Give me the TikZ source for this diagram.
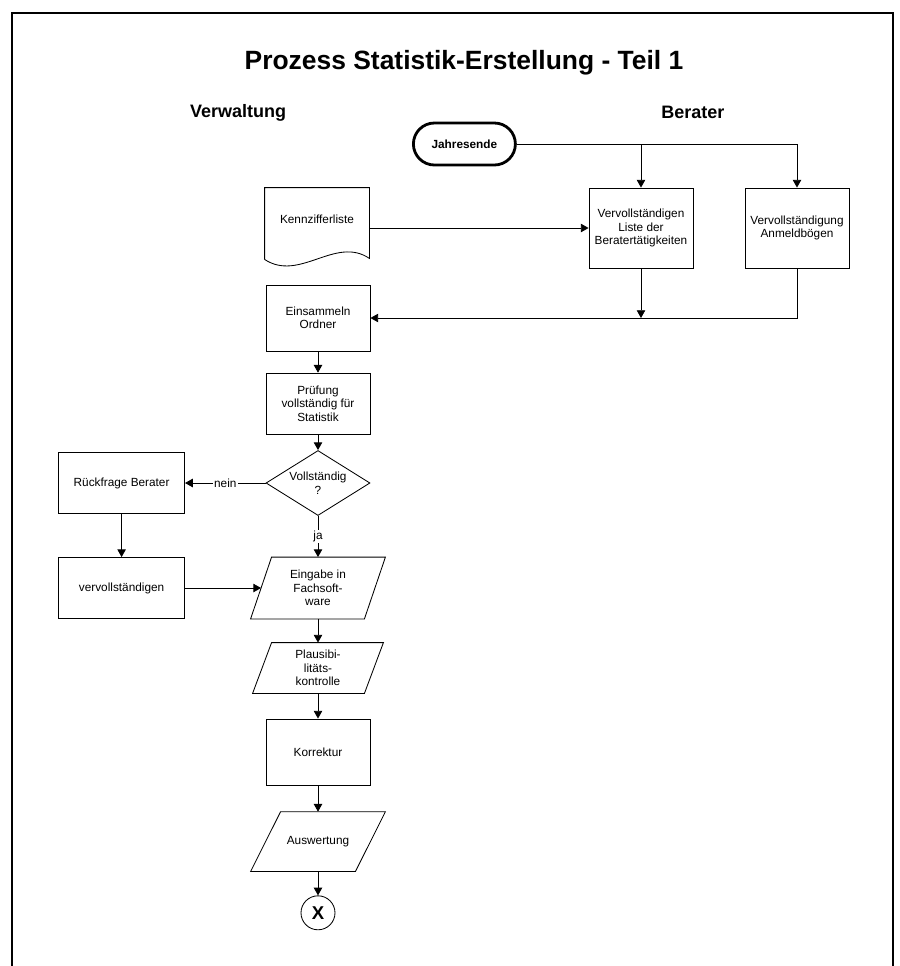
\documentclass[tikz,border=0pt]{standalone}
\usepackage{fontspec}
\setmainfont{Liberation Sans}
\usetikzlibrary{shapes.geometric, arrows.meta}
\tikzstyle{base} = [draw, line width=0.6pt, align=center, inner sep=2pt, font=\fontsize{8.4}{9.6}\selectfont]
\tikzstyle{process} = [base, rectangle, minimum width=2.6cm, minimum height=1.65cm]
\tikzstyle{startstop} = [base, rectangle, rounded corners=0.525cm, line width=2pt, minimum width=2.55cm, minimum height=1.05cm, font=\bfseries\fontsize{8.4}{9.6}\selectfont]
\tikzstyle{decision} = [base, diamond, aspect=1.6, inner sep=0pt, minimum width=2.6cm, minimum height=1.625cm]
\tikzstyle{io} = [base, draw=none, rectangle, minimum width=2.8cm, minimum height=1.525cm]
\tikzstyle{doc} = [base, draw=none, rectangle, minimum width=2.6cm, minimum height=1.55cm]
\tikzstyle{lane} = [font=\bfseries\fontsize{12.8}{15}\selectfont]
\tikzstyle{tag} = [fill=white, inner sep=1pt, font=\fontsize{8.4}{9.6}\selectfont]
\tikzstyle{arrow} = [line width=0.6pt,->,>={Triangle[length=5.5pt,width=6pt]}]

\begin{document}
\begin{tikzpicture}
        \useasboundingbox (0,0) rectangle (22.475,-24.15);
        \draw [line width=1pt] (0.3,-24.15) -- (0.3,-0.325) -- (22.325,-0.325) -- (22.325,-24.15);
        \node [font=\bfseries\fontsize{18.8}{22}\selectfont] at (11.6,-1.57) (title) {Prozess Statistik-Erstellung - Teil 1};
        \node [lane] at (5.95,-2.82) (verw) {Verwaltung};
        \node [lane] at (17.32,-2.82) (berat) {Berater};
        % Berater
        \node [startstop] at (11.61,-3.6) (jahr) {Jahresende};
        \node [process, minimum height=2cm] at (16.025,-5.7) (vliste) {Vervollständigen\\Liste der\\Beratertätigkeiten};
        \node [process, minimum height=2cm] at (19.925,-5.7) (vanmeld) {Vervollständigung\\Anmeldbögen};
        % Verwaltung
        \node [doc] at (7.925,-5.475) (kenn) {Kennzifferliste};
        \draw [base] ([yshift=-0.225cm]kenn.south west) -- (kenn.north west) -- (kenn.north east) -- ([yshift=-0.2cm]kenn.south east)
              .. controls +(-0.85,0.575) and +(0.875,-0.575) .. ([yshift=-0.225cm]kenn.south west);
        \node [process] at (7.95,-7.95) (einsam) {Einsammeln\\Ordner};
        \node [process, minimum height=1.525cm] at (7.95,-10.09) (pruef) {Prüfung\\vollständig für\\Statistik};
        \node [decision] at (7.95,-12.075) (vollst) {Vollständig\\?};
        \node [process, minimum width=3.15cm, minimum height=1.525cm] at (3.04,-12.075) (rueck) {Rückfrage Berater};
        \node [process, minimum width=3.15cm, minimum height=1.525cm] at (3.04,-14.7) (vervoll) {vervollständigen};
        \node [io, minimum width=2.825cm] at (7.95,-14.7) (eingabe) {Eingabe in\\Fachsoft-\\ware};
        \node [io, minimum width=2.775cm, minimum height=1.25cm] at (7.95,-16.7) (plaus) {Plausibi-\\litäts-\\kontrolle};
        \node [process] at (7.95,-18.8) (korr) {Korrektur};
        \node [io, minimum width=2.6cm, minimum height=1.475cm] at (7.95,-21.04) (ausw) {Auswertung};
        \node [base, circle, inner sep=0pt, minimum size=0.85cm, font=\bfseries\fontsize{13.2}{14}\selectfont] at (7.95,-22.82) (endx) {X};
        % parallelogram outlines
        \foreach \n/\s in {eingabe/0.2625, plaus/0.2375, ausw/0.375}
            \draw [base] ([xshift=\s cm]\n.north west) -- ([xshift=\s cm]\n.north east) -- ([xshift=-\s cm]\n.south east) -- ([xshift=-\s cm]\n.south west) -- cycle;

        \draw [arrow] (jahr.east) -| (vanmeld.north);
        \draw [arrow] (jahr.east -| vliste.north) -- (vliste.north);
        \draw [arrow] (kenn.east |- vliste.west) -- (vliste.west);
        \draw [arrow] (vanmeld.south) |- (einsam.east);
        \draw [arrow] (vliste.south) -- (vliste.south |- einsam.east);
        \draw [arrow] (einsam) -- (pruef);
        \draw [arrow] (pruef) -- (vollst);
        \draw [arrow] (vollst) -- node [tag] {nein} (rueck);
        \draw [arrow] (vollst) -- node [tag] {ja} (eingabe);
        \draw [arrow] (rueck) -- (vervoll);
        \draw [arrow] (vervoll.east) -- (eingabe.west);
        \draw [arrow] (eingabe) -- (plaus);
        \draw [arrow] (plaus) -- (korr);
        \draw [arrow] (korr) -- (ausw);
        \draw [arrow] (ausw) -- (endx);
\end{tikzpicture}
\end{document}
